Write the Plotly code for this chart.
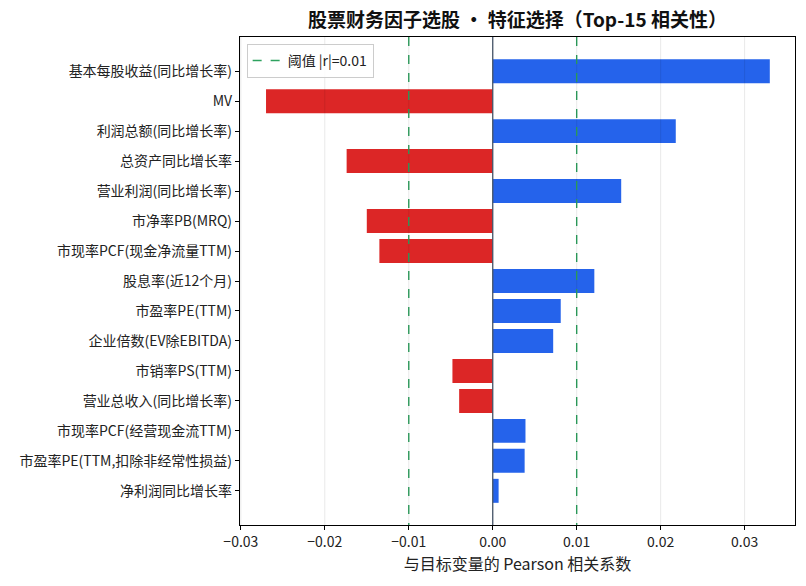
import plotly.graph_objects as go

features = [
    "基本每股收益(同比增长率)", "MV", "利润总额(同比增长率)", "总资产同比增长率",
    "营业利润(同比增长率)", "市净率PB(MRQ)", "市现率PCF(现金净流量TTM)", "股息率(近12个月)",
    "市盈率PE(TTM)", "企业倍数(EV除EBITDA)", "市销率PS(TTM)", "营业总收入(同比增长率)",
    "市现率PCF(经营现金流TTM)", "市盈率PE(TTM,扣除非经常性损益)", "净利润同比增长率",
]
corr = [0.0330, -0.0270, 0.0218, -0.0174, 0.0153, -0.0150, -0.0135, 0.0121,
        0.0081, 0.0072, -0.0048, -0.0040, 0.0039, 0.0038, 0.0007]
threshold = 0.01
x_ticks = [-0.03, -0.02, -0.01, 0.0, 0.01, 0.02, 0.03]
x_tick_text = ["−0.03", "−0.02", "−0.01", "0.00", "0.01", "0.02", "0.03"]

FONT = "Noto Sans CJK SC, Noto Sans, sans-serif"
colors = ["#2563eb" if v > 0 else "#dc2626" for v in corr]
ypos = list(range(len(features)))

fig = go.Figure()
fig.add_trace(go.Bar(
    x=corr, y=ypos, orientation="h", marker=dict(color=colors, line=dict(width=0)),
    width=0.8, showlegend=False, hoverinfo="x+y",
))

for i, t in enumerate([-threshold, threshold]):
    fig.add_trace(go.Scatter(
        x=[t, t], y=[-1.14, 15.14], mode="lines",
        line=dict(color="#2ea25f", width=1.4, dash="dash"),
        name="阈值 |r|=0.01", showlegend=(i == 0),
    ))

for t in x_ticks:
    fig.add_shape(type="line", xref="x", yref="paper", x0=t, x1=t, y0=0, y1=1,
                  line=dict(color="rgba(0,0,0,0.09)", width=1), layer="above")
fig.add_shape(type="line", xref="x", yref="paper", x0=0, x1=0, y0=0, y1=1,
              line=dict(color="#475569", width=1.3), layer="above")

fig.update_layout(
    width=806, height=586,
    margin=dict(l=240, r=11, t=37, b=61),
    paper_bgcolor="white", plot_bgcolor="white",
    font=dict(family=FONT, size=14, color="#222"),
    title=dict(text="<b>股票财务因子选股 · 特征选择（Top-15 相关性）</b>",
               x=(240 + 795) / 2 / 806, xanchor="center", y=1 - 20 / 586, yanchor="middle",
               font=dict(size=19, color="#111", family=FONT)),
    xaxis=dict(range=[-0.0301, 0.0360], tickvals=x_ticks, ticktext=x_tick_text,
               showgrid=False, zeroline=False, showline=True, linecolor="black",
               linewidth=1.2, mirror=True, ticks="outside", ticklen=4, tickcolor="black",
               tickfont=dict(size=14, color="#222"),
               title=dict(text="与目标变量的 Pearson 相关系数", font=dict(size=16, color="#222"),
                          standoff=8)),
    yaxis=dict(range=[15.14, -1.14], tickvals=ypos, ticktext=features,
               showgrid=False, zeroline=False, showline=True, linecolor="black",
               linewidth=1.2, mirror=True, ticks="outside", ticklen=4, tickcolor="black",
               tickfont=dict(size=14, color="#222")),
    legend=dict(x=0.012, y=0.986, xanchor="left", yanchor="top",
                bgcolor="rgba(255,255,255,0.85)", bordercolor="#cccccc", borderwidth=1,
                font=dict(size=14, color="#222"), tracegroupgap=0),
    bargap=0.2,
)

fig.write_html("out.html")
